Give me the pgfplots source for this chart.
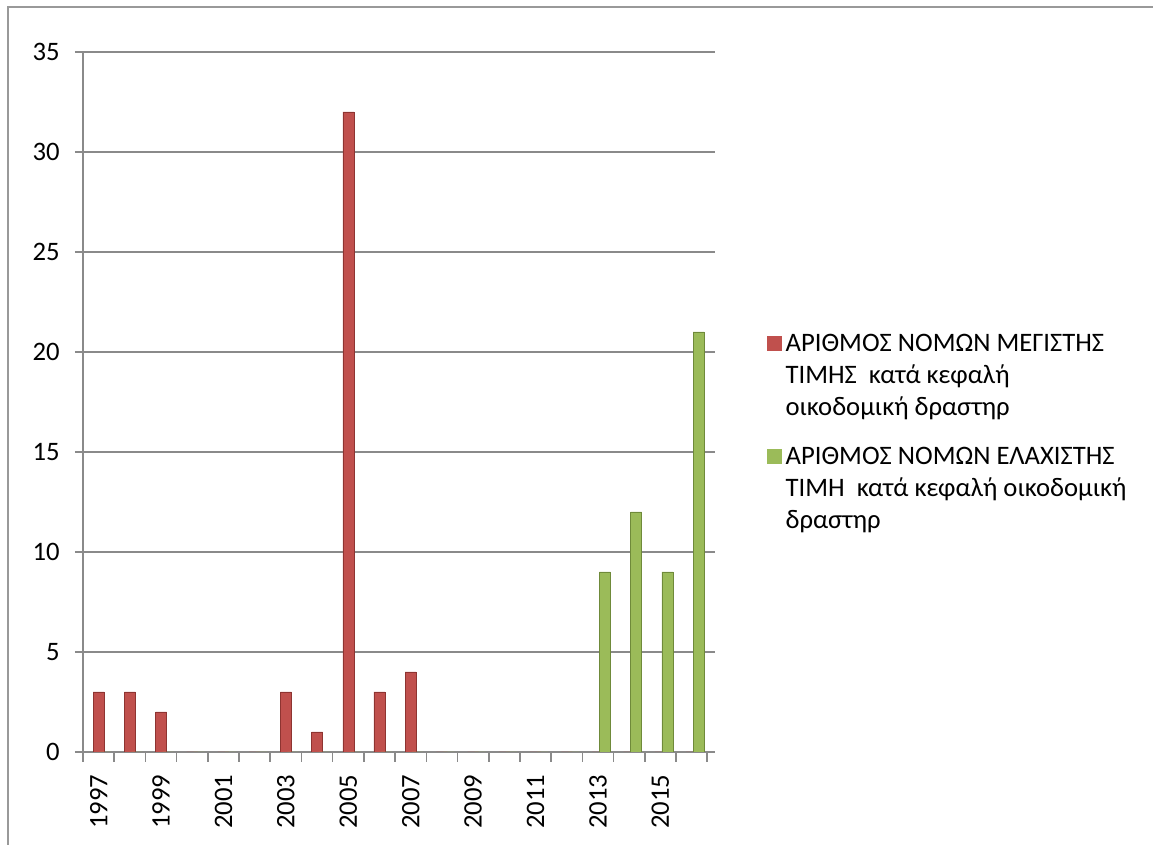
\documentclass[border=0pt]{standalone}
\usepackage{pgfplots}
\pgfplotsset{compat=1.18}
\usepackage{fontspec}
\setmainfont{Carlito}
\definecolor{barred}{HTML}{C0504D}
\definecolor{barreddark}{HTML}{8E3431}
\definecolor{bargreen}{HTML}{9BBB59}
\definecolor{bargreendark}{HTML}{6F8A3A}
\definecolor{gridgray}{HTML}{8A8A8A}
\pgfplotstableread{
idx maxv minv
0 3 0
1 3 0
2 2 0
3 0 0
4 0 0
5 0 0
6 3 0
7 1 0
8 32 0
9 3 0
10 4 0
11 0 0
12 0 0
13 0 0
14 0 0
15 0 0
16 0 9
17 0 12
18 0 9
19 0 21
}\counts
\begin{document}
\begin{tikzpicture}
\path[use as bounding box] (-62.25pt,-69.75pt) rectangle (802.5pt,564pt);
\draw[gray!80, line width=0.8pt] (-56.25pt,-69.75pt) -- (-56.25pt,558.75pt) -- (802.5pt,558.75pt);
\begin{axis}[
  at={(0,0)}, anchor=south west,
  scale only axis,
  width=474pt, height=525pt,
  xmin=-0.5, xmax=19.75,
  ymin=0, ymax=35,
  ytick={0,5,...,35},
  xtick={0,2,...,18},
  xticklabels={1997,1999,2001,2003,2005,2007,2009,2011,2013,2015},
  minor xtick={-0.5,0.5,...,19.5},
  axis x line*=bottom, axis y line*=left,
  axis line style={draw=gridgray, line width=1.2pt, -},
  tick align=outside,
  major x tick style={draw=none},
  minor x tick style={draw=gridgray, line width=1.2pt},
  minor tick length=7.5pt,
  y tick style={draw=gridgray, line width=1.2pt},
  major tick length=6pt,
  ymajorgrids,
  grid style={draw=gridgray, line width=1.5pt},
  tick label style={font={\fontsize{20}{24}\selectfont}},
  /pgf/number format/assume math mode=true,
  yticklabel style={xshift=-8pt},
  xticklabel style={rotate=90, anchor=east, xshift=-7.5pt},
  ybar, bar width=8.25pt,
  legend cell align=left,
  legend style={draw=none, fill=none, at={(axis description cs:1.075,0.603)}, anchor=north west,
    cells={align=left}, row sep=20pt, font={\fontsize{20}{24}\selectfont},
    nodes={inner sep=1pt}},
  legend image code/.code={\fill[#1,draw=none] (0pt,18.4pt) rectangle (11.25pt,29.6pt);
    \path (13pt,24pt);},
]
\addplot[fill=barred, draw=barreddark, bar shift=0pt] table[x=idx, y=maxv] {\counts};
\addlegendentry{ΑΡΙΘΜΟΣ ΝΟΜΩΝ ΜΕΓΙΣΤΗΣ\\ΤΙΜΗΣ\ \ κατά κεφαλή\\οικοδομική δραστηρ}
\addplot[fill=bargreen, draw=bargreendark, bar shift=5.25pt] table[x=idx, y=minv] {\counts};
\addlegendentry{ΑΡΙΘΜΟΣ ΝΟΜΩΝ ΕΛΑΧΙΣΤΗΣ\\ΤΙΜΗ\ \ κατά κεφαλή οικοδομική\\δραστηρ}
\end{axis}
\end{tikzpicture}
\end{document}
